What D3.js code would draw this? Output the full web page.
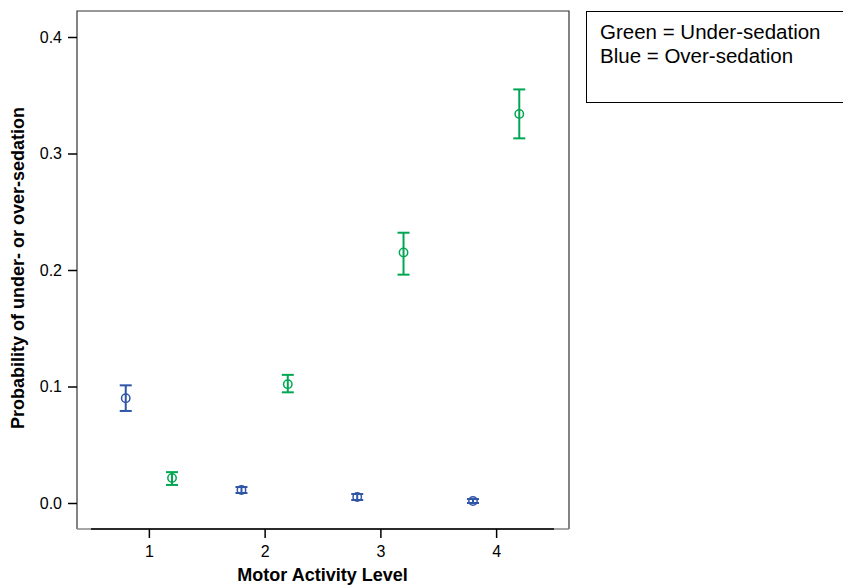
<!DOCTYPE html>
<html>
<head>
<meta charset="utf-8">
<script src="https://cdn.jsdelivr.net/npm/d3@7"></script>
<style>
  body { margin: 0; background: #fff; }
  text { font-family: "Liberation Sans", Arial, sans-serif; }
</style>
</head>
<body>
<svg id="chart" width="843" height="586"></svg>
<script>
// Motor activity levels with group offsets
const levels = [1, 2, 3, 4];
const overX = [0.8, 1.8, 2.8, 3.8];
const overMean = [0.090, 0.0111, 0.0051, 0.0017];
const overLow = [0.079, 0.0086, 0.0026, 0.0];
const overHigh = [0.101, 0.0137, 0.0077, 0.0034];

const underX = [1.2, 2.2, 3.2, 4.2];
const underMean = [0.0215, 0.102, 0.215, 0.334];
const underLow = [0.0155, 0.095, 0.196, 0.313];
const underHigh = [0.0265, 0.110, 0.232, 0.355];

const yTicks = [0.0, 0.1, 0.2, 0.3, 0.4];
const legendLines = ["Green = Under-sedation", "Blue = Over-sedation"];

const svg = d3.select("#chart");
const frame = { left: 77, right: 569, top: 11, bottom: 529 };

const x = d3.scaleLinear().domain([0.5, 4.5]).range([91, 554]);
const y = d3.scaleLinear().domain([0, 0.4]).range([503, 37]);

// plot frame (left, top, right)
svg.append("path")
  .attr("d", `M${frame.left},${frame.bottom}V${frame.top}H${frame.right}V${frame.bottom}`)
  .attr("fill", "none")
  .attr("stroke", "#333")
  .attr("stroke-width", 1.2);

svg.append("line")
  .attr("x1", frame.left).attr("x2", frame.right)
  .attr("y1", frame.bottom).attr("y2", frame.bottom)
  .attr("stroke", "#888").attr("stroke-width", 1.5);

// y axis
const yAxis = svg.append("g")
  .attr("transform", `translate(${frame.left},0)`)
  .call(d3.axisLeft(y).tickValues(yTicks).tickFormat(d3.format(".1f")).tickSize(9).tickPadding(6));
yAxis.select(".domain").remove();
yAxis.selectAll("line").attr("stroke", "#000").attr("stroke-width", 1.5);
yAxis.selectAll("text").attr("font-size", 16).attr("fill", "#000")
  .attr("font-family", "'Liberation Sans', Arial, sans-serif");

// x axis
const xAxis = svg.append("g")
  .attr("transform", `translate(0,${frame.bottom})`)
  .call(d3.axisBottom(x).tickValues(levels).tickFormat(d3.format("d")).tickSize(9).tickPadding(8));
xAxis.select(".domain")
  .attr("d", `M${x.range()[0]},0H${x.range()[1]}`)
  .attr("stroke", "#000").attr("stroke-width", 1.5);
xAxis.selectAll("line").attr("stroke", "#000").attr("stroke-width", 1.5);
xAxis.selectAll("text").attr("font-size", 16).attr("fill", "#000")
  .attr("font-family", "'Liberation Sans', Arial, sans-serif");

// error bars: whisker line runs through the open circle
const drawSeries = (xs, means, lows, highs, color) => {
  const data = xs.map((d, i) => ({ x: d, m: means[i], lo: lows[i], hi: highs[i] }));
  const g = svg.append("g").attr("stroke", color).attr("fill", "none");
  const cap = 6;
  data.forEach((d) => {
    const cx = x(d.x);
    g.append("line").attr("x1", cx).attr("x2", cx)
      .attr("y1", y(d.lo)).attr("y2", y(d.hi)).attr("stroke-width", 2);
    g.append("line").attr("x1", cx - cap).attr("x2", cx + cap)
      .attr("y1", y(d.hi)).attr("y2", y(d.hi)).attr("stroke-width", 2);
    g.append("line").attr("x1", cx - cap).attr("x2", cx + cap)
      .attr("y1", y(d.lo)).attr("y2", y(d.lo)).attr("stroke-width", 2);
    g.append("circle").attr("cx", cx).attr("cy", y(d.m)).attr("r", 4.2)
      .attr("fill", "none").attr("stroke-width", 1.5);
  });
};

drawSeries(overX, overMean, overLow, overHigh, "#2f55a6");
drawSeries(underX, underMean, underLow, underHigh, "#00a651");

// legend box
svg.append("rect")
  .attr("x", 586.5).attr("y", 11.5)
  .attr("width", 270).attr("height", 91)
  .attr("fill", "none").attr("stroke", "#000").attr("stroke-width", 1);

svg.selectAll(".legend-text")
  .data(legendLines)
  .join("text")
  .attr("class", "legend-text")
  .attr("x", 600)
  .attr("y", (d, i) => 39 + i * 24)
  .attr("font-size", 20.5)
  .text((d) => d);

// axis titles
svg.append("text")
  .attr("x", (x.range()[0] + x.range()[1]) / 2)
  .attr("y", 581)
  .attr("text-anchor", "middle")
  .attr("font-size", 18)
  .attr("font-weight", "bold")
  .text("Motor Activity Level");

svg.append("text")
  .attr("transform", "rotate(-90)")
  .attr("x", -268)
  .attr("y", 24)
  .attr("text-anchor", "middle")
  .attr("font-size", 18)
  .attr("font-weight", "bold")
  .text("Probability of under- or over-sedation");
</script>
</body>
</html>
